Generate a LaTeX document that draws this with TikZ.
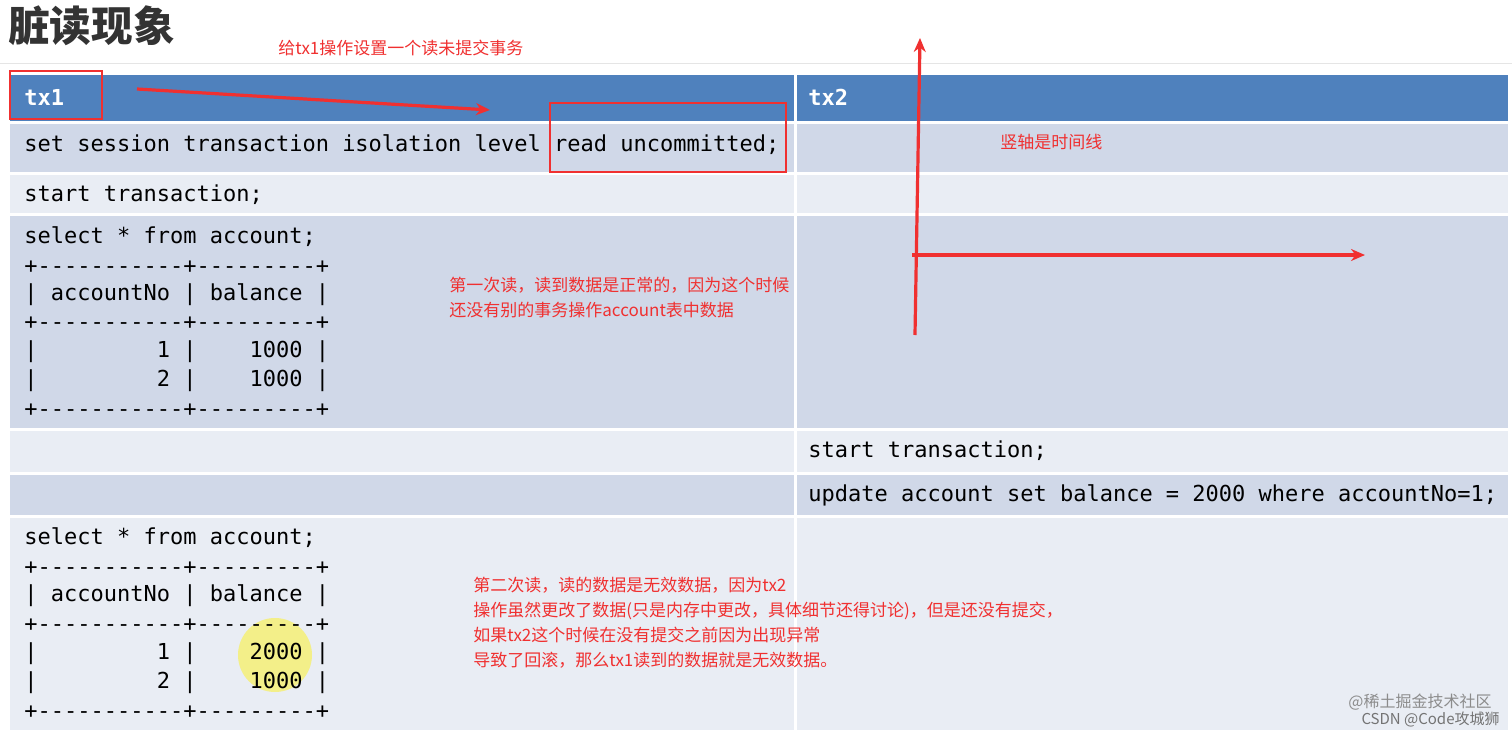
\documentclass[tikz,border=0pt]{standalone}
\usepackage{fontspec}
\setmonofont{DejaVu Sans Mono}
\newfontfamily\cjk{Noto Sans CJK SC}
\usetikzlibrary{arrows.meta}
\definecolor{hdr}{HTML}{4F81BD}
\definecolor{dk}{HTML}{D0D8E8}
\definecolor{lt}{HTML}{E9EDF4}
\definecolor{rd}{HTML}{F03030}
\tikzset{
 mono/.style={anchor=west,inner sep=0pt,font=\ttfamily\fontsize{11pt}{12pt}\selectfont},
 note/.style={anchor=north west,inner sep=0pt,align=left,text=rd,font=\cjk\fontsize{8.5pt}{12.5pt}\selectfont},
 hd/.style={anchor=west,inner sep=0pt,text=white,font=\ttfamily\bfseries\fontsize{11pt}{12pt}\selectfont},
 redbox/.style={draw=rd,line width=1pt},
 redarr/.style={draw=rd,line width=1.6pt,-{Stealth[length=7pt,width=6pt]}},
}
\begin{document}
\begin{tikzpicture}[x=0.5pt,y=-0.5pt]
\useasboundingbox (0,0) rectangle (1512,734);
\fill[white] (0,0) rectangle (1512,734);
\node[anchor=west,inner sep=0pt,font=\cjk\bfseries\fontsize{20.8pt}{22pt}\selectfont,text=black!80] (title) at (8,26) {脏读现象};
\node[note] (n0) at (278,40) {给tx1操作设置一个读未提交事务};
\draw[black!10] (0,63) -- (1512,63);
% rows
\fill[hdr] (10,75) rectangle (1508,121);
\fill[dk] (10,124) rectangle (1508,172);
\fill[lt] (10,175) rectangle (1508,213);
\fill[dk] (10,216) rectangle (1508,428);
\fill[lt] (10,431) rectangle (1508,472);
\fill[dk] (10,475) rectangle (1508,515);
\fill[lt] (10,518) rectangle (1508,730);
\draw[white,line width=1.5pt] (795,75) -- (795,730);
\node[hd] (tx1) at (24,97) {tx1};
\node[hd] (tx2) at (808,97) {tx2};
\node[mono] (r1) at (24,145) {set~session~transaction~isolation~level~read~uncommitted;};
\node[mono] (r2) at (24,195) {start~transaction;};
\node[mono] (r3) at (24,237) {select~*~from~account;};
\node[mono] (a1) at (24,267) {+-----------+---------+};
\node[mono] (a2) at (24,295) {|~accountNo~|~balance~|};
\node[mono] (a3) at (24,323) {+-----------+---------+};
\node[mono] (a4) at (24,352) {|~~~~~~~~~1~|~~~~1000~|};
\node[mono] (a5) at (24,381) {|~~~~~~~~~2~|~~~~1000~|};
\node[mono] (a6) at (24,410) {+-----------+---------+};
\node[mono] (s2) at (808,451) {start~transaction;};
\node[mono] (u2) at (808,495) {update~account~set~balance~=~2000~where~accountNo=1;};
\fill[yellow!45!lt] (275,655) circle (37);
\node[mono] (b0) at (24,538) {select~*~from~account;};
\node[mono] (b1) at (24,568) {+-----------+---------+};
\node[mono] (b2) at (24,596) {|~accountNo~|~balance~|};
\node[mono] (b3) at (24,625) {+-----------+---------+};
\node[mono] (b4) at (24,654) {|~~~~~~~~~1~|~~~~2000~|};
\node[mono] (b5) at (24,683) {|~~~~~~~~~2~|~~~~1000~|};
\node[mono] (b6) at (24,712) {+-----------+---------+};
% red annotations
\draw[redbox] (10,71) rectangle (102,119);
\draw[redbox] (550,103) rectangle (786,172);
\coordinate (p1) at (137,89); \coordinate (p2) at (490,110);
\draw[redarr] (p1) -- (p2);
\coordinate (v1) at (915,335); \coordinate (v2) at (920,38);
\draw[redarr] (v1) -- (v2);
\coordinate (h1) at (912,255); \coordinate (h2) at (1365,255);
\draw[redarr] (h1) -- (h2);
\node[note] (n1) at (1000,134) {竖轴是时间线};
\node[note] (n2) at (449,277) {第一次读，读到数据是正常的，因为这个时候\\还没有别的事务操作account表中数据};
\node[note] (n3) at (473,577) {第二次读，读的数据是无效数据，因为tx2\\操作虽然更改了数据(只是内存中更改，具体细节还得讨论)，但是还没有提交，\\如果tx2这个时候在没有提交之前因为出现异常\\导致了回滚，那么tx1读到的数据就是无效数据。};
\node[anchor=east,inner sep=0pt,text=black!45,font=\cjk\fontsize{8pt}{9pt}\selectfont] (w1) at (1492,702) {@稀土掘金技术社区};
\node[anchor=east,inner sep=0pt,text=black!55,font=\cjk\fontsize{7.5pt}{9pt}\selectfont] (w2) at (1500,719) {CSDN @Code攻城狮};
\end{tikzpicture}
\end{document}
